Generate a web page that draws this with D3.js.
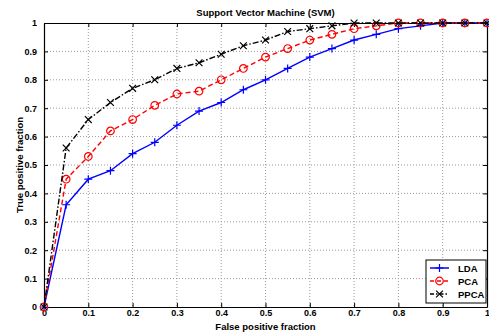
<!DOCTYPE html>
<html>
<head>
<meta charset="utf-8">
<script src="https://cdn.jsdelivr.net/npm/d3@7"></script>
<style>
  body { margin: 0; background: #fff; }
  svg { display: block; font-family: 'Liberation Sans', Arial, sans-serif; }
</style>
</head>
<body>
<div id="chart"></div>
<script>
// false positive fraction, sampled every 0.05
const fpr = [0, 0.05, 0.1, 0.15, 0.2, 0.25, 0.3, 0.35, 0.4, 0.45, 0.5,
             0.55, 0.6, 0.65, 0.7, 0.75, 0.8, 0.85, 0.9, 0.95, 1];
const ldaTpr = [0, 0.36, 0.45, 0.48, 0.54, 0.58, 0.64, 0.69, 0.72, 0.765, 0.80,
                0.84, 0.88, 0.91, 0.94, 0.96, 0.98, 0.99, 1, 1, 1];
const pcaTpr = [0, 0.45, 0.53, 0.62, 0.66, 0.71, 0.75, 0.76, 0.80, 0.84, 0.88,
                0.91, 0.94, 0.96, 0.98, 0.99, 1, 1, 1, 1, 1];
const ppcaTpr = [0, 0.56, 0.66, 0.72, 0.77, 0.80, 0.84, 0.86, 0.89, 0.92, 0.94,
                 0.97, 0.98, 0.99, 1, 1, 1, 1, 1, 1, 1];
const tickValues = [0, 0.1, 0.2, 0.3, 0.4, 0.5, 0.6, 0.7, 0.8, 0.9, 1];

const series = [
    { name: 'LDA', values: ldaTpr, colour: '#0000ff', dash: null, legendDash: null, marker: 'plus' },
    { name: 'PCA', values: pcaTpr, colour: '#ff0000', dash: '5,3', legendDash: '4,3', marker: 'circle' },
    { name: 'PPCA', values: ppcaTpr, colour: '#000000', dash: '6,2,1.5,2', legendDash: '4,2,1.5,2', marker: 'cross' },
];

const totalWidth = 489, totalHeight = 332;
const margin = { top: 23, right: 2, bottom: 25, left: 44 };
const width = totalWidth - margin.left - margin.right;
const height = totalHeight - margin.top - margin.bottom;

const svg = d3.select('#chart').append('svg')
    .attr('width', totalWidth)
    .attr('height', totalHeight);

const g = svg.append('g')
    .attr('transform', `translate(${margin.left},${margin.top})`);

const x = d3.scaleLinear().domain([0, 1]).range([0, width]);
const y = d3.scaleLinear().domain([0, 1]).range([height, 0]);

// dotted grid
g.append('g').selectAll('line')
    .data(tickValues.slice(1, -1))
    .join('line')
    .attr('x1', d => x(d)).attr('x2', d => x(d))
    .attr('y1', 0).attr('y2', height)
    .attr('stroke', '#9a9a9a').attr('stroke-width', 1)
    .attr('stroke-dasharray', '1,2');
g.append('g').selectAll('line')
    .data(tickValues.slice(1, -1))
    .join('line')
    .attr('y1', d => y(d)).attr('y2', d => y(d))
    .attr('x1', 0).attr('x2', width)
    .attr('stroke', '#9a9a9a').attr('stroke-width', 1)
    .attr('stroke-dasharray', '1,2');

// axes (ticks pointing inward, matlab style)
const fmt = d => d === 0 || d === 1 ? String(d) : d.toFixed(1);
const xAxis = g.append('g')
    .attr('transform', `translate(0,${height})`)
    .call(d3.axisBottom(x).tickValues(tickValues).tickFormat(fmt)
        .tickSizeInner(-4).tickSizeOuter(0).tickPadding(3));
const yAxis = g.append('g')
    .call(d3.axisLeft(y).tickValues(tickValues).tickFormat(fmt)
        .tickSizeInner(-4).tickSizeOuter(0).tickPadding(7));
const xAxisTop = g.append('g')
    .call(d3.axisTop(x).tickValues(tickValues).tickFormat('')
        .tickSizeInner(-4).tickSizeOuter(0));
const yAxisRight = g.append('g')
    .attr('transform', `translate(${width},0)`)
    .call(d3.axisRight(y).tickValues(tickValues).tickFormat('')
        .tickSizeInner(-4).tickSizeOuter(0));

[xAxis, yAxis, xAxisTop, yAxisRight].forEach(axis => {
    axis.selectAll('text')
        .attr('fill', '#000')
        .attr('font-size', 9)
        .attr('font-weight', 'bold');
    axis.selectAll('line').attr('stroke', '#000');
    axis.select('.domain').attr('stroke', '#000').attr('stroke-width', 1.2);
});

// markers
function drawMarker(sel, kind, colour, s) {
    if (kind === 'plus') {
        sel.append('path').attr('d', `M${-s},0H${s}M0,${-s}V${s}`)
            .attr('stroke', colour).attr('stroke-width', 1.2).attr('fill', 'none');
    } else if (kind === 'circle') {
        sel.append('circle').attr('r', s * 0.95)
            .attr('stroke', colour).attr('stroke-width', 1.2).attr('fill', 'none');
    } else {
        const k = s * 0.85;
        sel.append('path').attr('d', `M${-k},${-k}L${k},${k}M${-k},${k}L${k},${-k}`)
            .attr('stroke', colour).attr('stroke-width', 1.2).attr('fill', 'none');
    }
}

const line = d3.line()
    .x((d, i) => x(fpr[i]))
    .y(d => y(d));

series.forEach(s => {
    g.append('path')
        .datum(s.values)
        .attr('fill', 'none')
        .attr('stroke', s.colour)
        .attr('stroke-width', 1.4)
        .attr('stroke-dasharray', s.dash)
        .attr('d', line);

    g.append('g').selectAll('g')
        .data(s.values)
        .join('g')
        .attr('transform', (d, i) => `translate(${x(fpr[i])},${y(d)})`)
        .each(function () { drawMarker(d3.select(this), s.marker, s.colour, 4); });
});

// title and axis labels
svg.append('text')
    .attr('x', margin.left + width / 2).attr('y', 16)
    .attr('text-anchor', 'middle')
    .attr('font-size', 9.5).attr('font-weight', 'bold')
    .text('Support Vector Machine (SVM)');

svg.append('text')
    .attr('x', margin.left + width / 2).attr('y', 330)
    .attr('text-anchor', 'middle')
    .attr('font-size', 9.5).attr('font-weight', 'bold')
    .text('False positive fraction');

svg.append('text')
    .attr('transform', `translate(23,${margin.top + height / 2}) rotate(-90)`)
    .attr('text-anchor', 'middle')
    .attr('font-size', 9.5).attr('font-weight', 'bold')
    .text('True positive fraction');

// legend
const legend = svg.append('g').attr('transform', 'translate(426,260)');
legend.append('rect')
    .attr('width', 60).attr('height', 43)
    .attr('fill', '#fff').attr('stroke', '#000').attr('stroke-width', 1);

series.forEach((s, i) => {
    const row = legend.append('g').attr('transform', `translate(0,${8 + i * 13})`);
    row.append('line')
        .attr('x1', 4).attr('x2', 23)
        .attr('stroke', s.colour).attr('stroke-width', 1.5)
        .attr('stroke-dasharray', s.legendDash);
    const m = row.append('g').attr('transform', 'translate(13.5,0)');
    drawMarker(m, s.marker, s.colour, 4);
    row.append('text')
        .attr('x', 32).attr('y', 3.5)
        .attr('font-size', 9.5).attr('font-weight', 'bold')
        .text(s.name);
});
</script>
</body>
</html>
